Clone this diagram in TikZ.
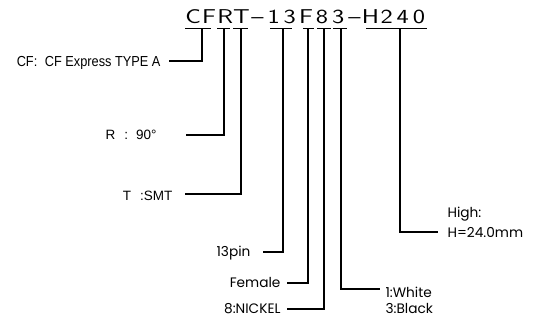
\documentclass[tikz,border=0pt]{standalone}
\usepackage{fontspec}
\newfontfamily\titlefont[FakeStretch=1.3,Ligatures=TeX]{lmsans17-regular.otf}
\newfontfamily\narrowfont[FakeStretch=0.88]{Liberation Sans}
\newfontfamily\arialfont{Liberation Sans}
\newfontfamily\gothfont{Poppins}
\begin{document}
\begin{tikzpicture}[x=1pt,y=-1pt,line width=1.1pt,
  titlech/.style={anchor=base,inner sep=0pt,font=\titlefont\fontsize{20}{24}\selectfont},
  narrowlab/.style={inner sep=0pt,font=\narrowfont\fontsize{14.5}{17}\selectfont},
  ariallab/.style={inner sep=0pt,font=\arialfont\fontsize{13.5}{16}\selectfont},
  gothlab/.style={inner sep=0pt,font=\gothfont\fontsize{13.7}{16}\selectfont},
  uline/.style={line width=1pt},
  conn/.style={line width=1.25pt}]
\useasboundingbox[fill=white] (0,0) rectangle (541,326);
% title characters
\foreach \ch [count=\i] in {C,F,R,T,–,1,3,F,8,3,–,H,2,4,0}
  \node[titlech] (t\i) at ({185+16.13*(\i-0.5)},23.3) {\ch};
% underlines
\foreach \a/\b/\n in {185/211/CF,217/230/R,233/248/T,270/292/N,303/314/F,317/331/E,333/347/K,366/427/H}{
  \coordinate (ul\n) at (\a,29);
  \coordinate (ur\n) at (\b,29);
  \draw[uline] (ul\n) -- (ur\n);
}
% tap points
\coordinate (pCF) at (202,29);
\coordinate (pR) at (224,29);
\coordinate (pT) at (241,29);
\coordinate (pN) at (283,29);
\coordinate (pF) at (308,29);
\coordinate (pE) at (324,29);
\coordinate (pK) at (341,29);
\coordinate (pH) at (400,29);
% line ends
\coordinate (eCF) at (169,61);
\coordinate (eR) at (186,135);
\coordinate (eT) at (185,194);
\coordinate (eN) at (263,252);
\coordinate (eF) at (287,283);
\coordinate (eE) at (287,309);
\coordinate (eK) at (380,289);
\coordinate (eH) at (438,232);
% labels
\node[narrowlab,anchor=base east] (lCF) at (161,66.5) {CF:\hspace{4pt} CF Express TYPE A};
\node[ariallab,anchor=base east] (lR) at (157,140) {R\hspace{9pt}:\hspace{8pt}90°};
\node[ariallab,anchor=base east] (lT) at (173,200.5) {T\hspace{9pt}:SMT};
\node[gothlab,anchor=base east] (lN) at (251,256.5) {13pin};
\node[gothlab,anchor=base east] (lF) at (281,287) {Female};
\node[gothlab,anchor=base east] (lE) at (281,313) {8:NICKEL};
\node[gothlab,anchor=base west] (lK1) at (385,297) {1:White};
\node[gothlab,anchor=base west] (lK2) at (385,313) {3:Black};
\node[gothlab,anchor=base west] (lH1) at (447,218) {High:};
\node[gothlab,anchor=base west] (lH2) at (447,237) {H=24.0mm};
% connectors
\draw[conn] (pCF) |- (eCF);
\draw[conn] (pR) |- (eR);
\draw[conn] (pT) |- (eT);
\draw[conn] (pN) |- (eN);
\draw[conn] (pF) |- (eF);
\draw[conn] (pE) |- (eE);
\draw[conn] (pK) |- (eK);
\draw[conn] (pH) |- (eH);
\end{tikzpicture}
\end{document}
